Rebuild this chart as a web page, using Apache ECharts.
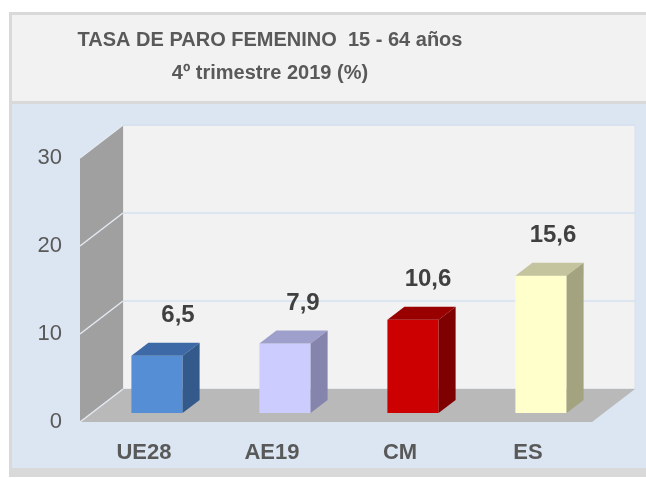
<!DOCTYPE html>
<html>
<head>
<meta charset="utf-8">
<script src="https://cdn.jsdelivr.net/npm/echarts@6/dist/echarts.min.js"></script>
<style>
  html, body { margin: 0; padding: 0; background: #fff; }
  #chart { width: 646px; height: 478px; }
</style>
</head>
<body>
<div id="chart"></div>
<script>
// datos
var categorias = ['UE28', 'AE19', 'CM', 'ES'];
var tasas = [6.5, 7.9, 10.6, 15.6];
var ticksY = [0, 10, 20, 30];

// colores de las barras (frente, techo, lateral)
var colFrente = ['#558ed5', '#ccccff', '#cc0000', '#ffffcc'];
var colTecho = ['#3d6aa6', '#9f9fcc', '#990000', '#c4c49e'];
var colLado = ['#335a8a', '#8484ac', '#7f0000', '#a3a380'];

var fuente = "'Liberation Sans', Arial, sans-serif";
var gris = '#595959';

// profundidad de la caja 3D
var DX = 43, DY = -33;
// desplazamiento y fondo de las barras
var FX = 13, FY = -9, BDX = 17, BDY = -13;

var chart = echarts.init(document.getElementById('chart'));

var option = {
  animation: false,
  textStyle: { fontFamily: fuente },
  graphic: [
    { type: 'rect', shape: { x: 9, y: 12, width: 700, height: 465 }, style: { fill: '#d9d9d9' }, z: -10 },
    { type: 'rect', shape: { x: 12, y: 15, width: 700, height: 86 }, style: { fill: '#f2f2f2' }, z: -9 },
    { type: 'rect', shape: { x: 12, y: 104, width: 700, height: 364 }, style: { fill: '#dce6f2' }, z: -9 }
  ],
  title: {
    text: 'TASA DE PARO FEMENINO  15 - 64 años\n4º trimestre 2019 (%)',
    left: 270,
    top: 24,
    padding: 0,
    textAlign: 'center',
    textStyle: {
      fontFamily: fuente,
      fontSize: 20,
      fontWeight: 'bold',
      color: gris,
      lineHeight: 33
    }
  },
  grid: { left: 80, right: 54, top: 158, bottom: 56 },
  xAxis: {
    type: 'category',
    data: categorias,
    axisLine: { show: false },
    axisTick: { show: false },
    axisLabel: { fontFamily: fuente, fontSize: 22, fontWeight: 'bold', color: gris, margin: 20 }
  },
  yAxis: {
    type: 'value',
    min: 0,
    max: 30,
    interval: 10,
    axisLine: { show: false },
    axisTick: { show: false },
    splitLine: { show: false },
    axisLabel: { fontFamily: fuente, fontSize: 22, color: gris, margin: 18 }
  },
  series: [
    {
      // paredes y suelo
      type: 'custom',
      z: 1,
      silent: true,
      data: [[0, 0]],
      renderItem: function (params, api) {
        var cs = params.coordSys;
        var x0 = cs.x, x1 = cs.x + cs.width;
        var yt = cs.y, yb = cs.y + cs.height;
        var hijos = [
          { type: 'rect', shape: { x: x0 + DX, y: yt + DY, width: x1 - x0, height: yb - yt },
            style: { fill: '#f2f2f2', stroke: '#d6e1ef', lineWidth: 1 } },
          { type: 'polygon', shape: { points: [[x0, yt], [x0 + DX, yt + DY], [x0 + DX, yb + DY], [x0, yb]] },
            style: { fill: '#a0a0a0' } },
          { type: 'polygon', shape: { points: [[x0, yb], [x1, yb], [x1 + DX, yb + DY], [x0 + DX, yb + DY]] },
            style: { fill: '#b9b9b9' } }
        ];
        ticksY.forEach(function (t) {
          var y = api.coord([0, t])[1];
          if (t > 0) {
            hijos.push({ type: 'line', shape: { x1: x0 + DX, y1: y + DY, x2: x1 + DX, y2: y + DY },
              style: { stroke: '#d6e1ef', lineWidth: 1.5 } });
          }
          hijos.push({ type: 'line', shape: { x1: x0, y1: y, x2: x0 + DX, y2: y + DY },
            style: { stroke: '#e4eaf2', lineWidth: 1.5 } });
        });
        return { type: 'group', children: hijos };
      }
    },
    {
      // barras 3D
      type: 'custom',
      z: 3,
      data: tasas.map(function (v, i) { return [i, v]; }),
      renderItem: function (params, api) {
        var i = api.value(0);
        var v = api.value(1);
        var base = api.coord([i, 0]);
        var cima = api.coord([i, v]);
        var ancho = api.size([1, 0])[0] * 0.4;
        var cx = base[0] + FX;
        var l = cx - ancho / 2, r = cx + ancho / 2;
        var top = cima[1] + FY, bot = base[1] + FY;
        var etiqueta = String(v).replace('.', ',');
        return {
          type: 'group',
          children: [
            { type: 'rect', shape: { x: l, y: top, width: ancho, height: bot - top },
              style: { fill: colFrente[i] } },
            { type: 'polygon', shape: { points: [[l, top], [r, top], [r + BDX, top + BDY], [l + BDX, top + BDY]] },
              style: { fill: colTecho[i] } },
            { type: 'polygon', shape: { points: [[r, top], [r + BDX, top + BDY], [r + BDX, bot + BDY], [r, bot]] },
              style: { fill: colLado[i] } },
            { type: 'text', x: cx + 21 - 3 * i, y: top - 40,
              style: { text: etiqueta, align: 'center', verticalAlign: 'middle',
                font: 'bold 24px ' + fuente, fill: '#404040' } }
          ]
        };
      }
    }
  ]
};

chart.setOption(option);
</script>
</body>
</html>
